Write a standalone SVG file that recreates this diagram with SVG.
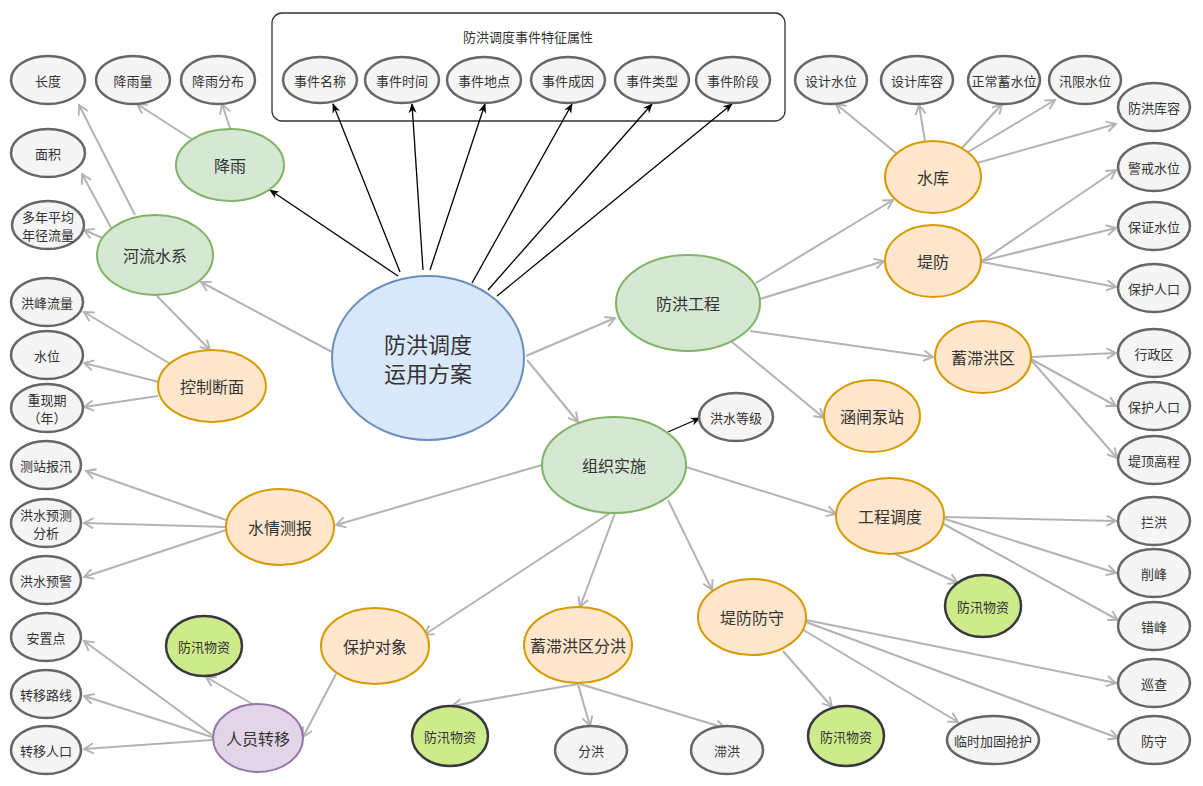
<svg xmlns="http://www.w3.org/2000/svg" width="1203" height="786" viewBox="0 0 1203 786">
<defs>
<marker id="ag" viewBox="0 0 14 14" refX="12" refY="7" markerWidth="12" markerHeight="12" markerUnits="userSpaceOnUse" orient="auto" overflow="visible"><path d="M1,1 L12,7 L1,13" fill="none" stroke="#b3b3b3" stroke-width="2.2"/></marker>
<marker id="ab" viewBox="0 0 10 10" refX="9" refY="5" markerWidth="10" markerHeight="10" markerUnits="userSpaceOnUse" orient="auto"><path d="M0,1 L10,5 L0,9 L3,5 Z" fill="#000"/></marker>
</defs>
<style>
text{font-family:"Noto Sans CJK SC","Liberation Sans",sans-serif;fill:#333;text-anchor:middle;dominant-baseline:central}
.leaf ellipse{fill:#f5f5f5;stroke:#666;stroke-width:2.5}
.leaf text{font-size:13px}
.org ellipse{fill:#ffe6cc;stroke:#d79b00;stroke-width:2}
.grn ellipse{fill:#d5e8d4;stroke:#82b366;stroke-width:2}
.mat ellipse{fill:#cdeb8b;stroke:#36393d;stroke-width:2.5}
.mat text{font-size:13px}
.pur ellipse{fill:#e1d5e7;stroke:#9673a6;stroke-width:2}
.mid text{font-size:16px}
.g line{stroke:#b3b3b3;stroke-width:2;marker-end:url(#ag)}
.b line{stroke:#000;stroke-width:1.3;marker-end:url(#ab)}
</style>
<rect x="272" y="13" width="513" height="108" rx="10" fill="#fff" stroke="#333" stroke-width="1.3"/>
<text x="528" y="36" style="font-size:13px">防洪调度事件特征属性</text>
<g id="connectors">
<g class="b">
<line x1="398" y1="276" x2="270" y2="190"/>
<line x1="400" y1="272" x2="333" y2="104"/>
<line x1="423" y1="270" x2="412" y2="104"/>
<line x1="430" y1="270" x2="485" y2="104"/>
<line x1="472" y1="283" x2="572" y2="104"/>
<line x1="488" y1="290" x2="652" y2="104"/>
<line x1="497" y1="296" x2="732" y2="104"/>
<line x1="668" y1="432" x2="700" y2="418"/>
</g>
<g class="g">
<line x1="332" y1="352" x2="201" y2="282"/>
<line x1="526" y1="356" x2="615" y2="318"/>
<line x1="527" y1="360" x2="578" y2="422"/>
<line x1="135" y1="215" x2="79" y2="105"/>
<line x1="115" y1="235" x2="82" y2="174"/>
<line x1="107" y1="240" x2="84" y2="230"/>
<line x1="157" y1="296" x2="210" y2="350"/>
<line x1="193" y1="140" x2="137" y2="104"/>
<line x1="230" y1="128" x2="222" y2="104"/>
<line x1="172" y1="365" x2="84" y2="312"/>
<line x1="159" y1="382" x2="84" y2="363"/>
<line x1="158" y1="396" x2="84" y2="407"/>
<line x1="756" y1="283" x2="893" y2="200"/>
<line x1="760" y1="299" x2="884" y2="261"/>
<line x1="750" y1="331" x2="933" y2="357"/>
<line x1="732" y1="342" x2="824" y2="418"/>
<line x1="896" y1="153" x2="836" y2="104"/>
<line x1="925" y1="141" x2="919" y2="105"/>
<line x1="962" y1="148" x2="1002" y2="104"/>
<line x1="968" y1="152" x2="1055" y2="100"/>
<line x1="977" y1="163" x2="1116" y2="124"/>
<line x1="982" y1="261" x2="1116" y2="170"/>
<line x1="982" y1="261" x2="1116" y2="228"/>
<line x1="982" y1="262" x2="1116" y2="287"/>
<line x1="1031" y1="357" x2="1116" y2="353"/>
<line x1="1031" y1="359" x2="1116" y2="406"/>
<line x1="1031" y1="360" x2="1117" y2="458"/>
<line x1="542" y1="465" x2="336" y2="525"/>
<line x1="610" y1="513" x2="424" y2="635"/>
<line x1="615" y1="513" x2="580" y2="607"/>
<line x1="668" y1="500" x2="712" y2="590"/>
<line x1="686" y1="467" x2="836" y2="514"/>
<line x1="945" y1="517" x2="1116" y2="521"/>
<line x1="945" y1="519" x2="1116" y2="573"/>
<line x1="940" y1="522" x2="1118" y2="620"/>
<line x1="893" y1="553" x2="958" y2="583"/>
<line x1="806" y1="620" x2="1116" y2="683"/>
<line x1="806" y1="622" x2="1118" y2="738"/>
<line x1="800" y1="628" x2="958" y2="722"/>
<line x1="783" y1="651" x2="832" y2="707"/>
<line x1="578" y1="684" x2="452" y2="706"/>
<line x1="578" y1="684" x2="590" y2="726"/>
<line x1="580" y1="684" x2="725" y2="728"/>
<line x1="336" y1="674" x2="303" y2="737"/>
<line x1="254" y1="705" x2="206" y2="677"/>
<line x1="212" y1="735" x2="84" y2="641"/>
<line x1="212" y1="737" x2="84" y2="696"/>
<line x1="212" y1="740" x2="84" y2="749"/>
<line x1="226" y1="520" x2="86" y2="471"/>
<line x1="226" y1="527" x2="84" y2="523"/>
<line x1="226" y1="530" x2="84" y2="577"/>
</g>
</g>
<g id="center"><ellipse cx="428" cy="358" rx="96" ry="82" fill="#dae8fc" stroke="#6c8ebf" stroke-width="2"/><text x="428" y="343" style="font-size:22px">防洪调度</text><text x="428" y="372" style="font-size:22px">运用方案</text></g>
<g id="n_len" class="leaf"><ellipse cx="48" cy="80" rx="37" ry="24"/><text x="48" y="80">长度</text></g>
<g id="n_rainamt" class="leaf"><ellipse cx="133" cy="80" rx="37" ry="24"/><text x="133" y="80">降雨量</text></g>
<g id="n_raindist" class="leaf"><ellipse cx="218" cy="80" rx="37" ry="24"/><text x="218" y="80">降雨分布</text></g>
<g id="n_area" class="leaf"><ellipse cx="48" cy="153" rx="37" ry="24"/><text x="48" y="153">面积</text></g>
<g id="n_runoff" class="leaf"><ellipse cx="48" cy="225" rx="36" ry="24"/><text x="48" y="216">多年平均</text><text x="48" y="234">年径流量</text></g>
<g id="n_peak" class="leaf"><ellipse cx="47" cy="302" rx="36" ry="24"/><text x="47" y="302">洪峰流量</text></g>
<g id="n_level" class="leaf"><ellipse cx="47" cy="355" rx="36" ry="24"/><text x="47" y="355">水位</text></g>
<g id="n_return" class="leaf"><ellipse cx="47" cy="408" rx="36" ry="24"/><text x="47" y="399">重现期</text><text x="47" y="417">（年）</text></g>
<g id="n_station" class="leaf"><ellipse cx="46" cy="465" rx="35" ry="24"/><text x="46" y="465">测站报汛</text></g>
<g id="n_forecast" class="leaf"><ellipse cx="46" cy="523" rx="35" ry="24"/><text x="46" y="514">洪水预测</text><text x="46" y="532">分析</text></g>
<g id="n_warn" class="leaf"><ellipse cx="46" cy="580" rx="35" ry="24"/><text x="46" y="580">洪水预警</text></g>
<g id="n_settle" class="leaf"><ellipse cx="46" cy="637" rx="35" ry="24"/><text x="46" y="637">安置点</text></g>
<g id="n_route" class="leaf"><ellipse cx="46" cy="694" rx="35" ry="24"/><text x="46" y="694">转移路线</text></g>
<g id="n_pop" class="leaf"><ellipse cx="46" cy="750" rx="35" ry="24"/><text x="46" y="750">转移人口</text></g>
<g id="e1" class="leaf"><ellipse cx="320" cy="80" rx="37" ry="23"/><text x="320" y="80">事件名称</text></g>
<g id="e2" class="leaf"><ellipse cx="402" cy="80" rx="37" ry="23"/><text x="402" y="80">事件时间</text></g>
<g id="e3" class="leaf"><ellipse cx="484" cy="80" rx="37" ry="23"/><text x="484" y="80">事件地点</text></g>
<g id="e4" class="leaf"><ellipse cx="568" cy="80" rx="37" ry="23"/><text x="568" y="80">事件成因</text></g>
<g id="e5" class="leaf"><ellipse cx="652" cy="80" rx="37" ry="23"/><text x="652" y="80">事件类型</text></g>
<g id="e6" class="leaf"><ellipse cx="733" cy="80" rx="37" ry="23"/><text x="733" y="80">事件阶段</text></g>
<g id="r1" class="leaf"><ellipse cx="831" cy="80" rx="36" ry="24"/><text x="831" y="80">设计水位</text></g>
<g id="r2" class="leaf"><ellipse cx="917" cy="80" rx="36" ry="24"/><text x="917" y="80">设计库容</text></g>
<g id="r3" class="leaf"><ellipse cx="1004" cy="80" rx="36" ry="24"/><text x="1004" y="80">正常蓄水位</text></g>
<g id="r4" class="leaf"><ellipse cx="1085" cy="80" rx="36" ry="24"/><text x="1085" y="80">汛限水位</text></g>
<g id="r5" class="leaf"><ellipse cx="1154" cy="107" rx="36" ry="24"/><text x="1154" y="107">防洪库容</text></g>
<g id="d1" class="leaf"><ellipse cx="1154" cy="167" rx="36" ry="24"/><text x="1154" y="167">警戒水位</text></g>
<g id="d2" class="leaf"><ellipse cx="1154" cy="226" rx="36" ry="24"/><text x="1154" y="226">保证水位</text></g>
<g id="d3" class="leaf"><ellipse cx="1154" cy="288" rx="36" ry="24"/><text x="1154" y="288">保护人口</text></g>
<g id="x1" class="leaf"><ellipse cx="1154" cy="353" rx="36" ry="24"/><text x="1154" y="353">行政区</text></g>
<g id="x2" class="leaf"><ellipse cx="1154" cy="406" rx="36" ry="24"/><text x="1154" y="406">保护人口</text></g>
<g id="x3" class="leaf"><ellipse cx="1154" cy="460" rx="36" ry="24"/><text x="1154" y="460">堤顶高程</text></g>
<g id="g1" class="leaf"><ellipse cx="1154" cy="521" rx="36" ry="24"/><text x="1154" y="521">拦洪</text></g>
<g id="g2" class="leaf"><ellipse cx="1154" cy="573" rx="36" ry="24"/><text x="1154" y="573">削峰</text></g>
<g id="g3" class="leaf"><ellipse cx="1154" cy="626" rx="36" ry="24"/><text x="1154" y="626">错峰</text></g>
<g id="k1" class="leaf"><ellipse cx="1154" cy="683" rx="36" ry="24"/><text x="1154" y="683">巡查</text></g>
<g id="k2" class="leaf"><ellipse cx="1154" cy="740" rx="36" ry="24"/><text x="1154" y="740">防守</text></g>
<g id="k3" class="leaf"><ellipse cx="993" cy="740" rx="46" ry="24"/><text x="993" y="740">临时加固抢护</text></g>
<g id="level" class="leaf"><ellipse cx="736" cy="417" rx="37" ry="24"/><text x="736" y="417">洪水等级</text></g>
<g id="f1" class="leaf"><ellipse cx="591" cy="750" rx="36" ry="24"/><text x="591" y="750">分洪</text></g>
<g id="f2" class="leaf"><ellipse cx="727" cy="750" rx="36" ry="24"/><text x="727" y="750">滞洪</text></g>
<g id="m1" class="mat"><ellipse cx="983" cy="606" rx="38" ry="31"/><text x="983" y="606">防汛物资</text></g>
<g id="m2" class="mat"><ellipse cx="846" cy="736" rx="38" ry="30"/><text x="846" y="736">防汛物资</text></g>
<g id="m3" class="mat"><ellipse cx="450" cy="736" rx="38" ry="30"/><text x="450" y="736">防汛物资</text></g>
<g id="m4" class="mat"><ellipse cx="204" cy="646" rx="38" ry="30"/><text x="204" y="646">防汛物资</text></g>
<g id="rain" class="grn mid"><ellipse cx="230" cy="165" rx="54" ry="36"/><text x="230" y="165">降雨</text></g>
<g id="river" class="grn mid"><ellipse cx="155" cy="255" rx="58" ry="40"/><text x="155" y="255">河流水系</text></g>
<g id="proj" class="grn mid"><ellipse cx="688" cy="303" rx="72" ry="48"/><text x="688" y="303">防洪工程</text></g>
<g id="org" class="grn mid"><ellipse cx="614" cy="465" rx="72" ry="48"/><text x="614" y="465">组织实施</text></g>
<g id="sec" class="org mid"><ellipse cx="212" cy="386" rx="54" ry="36"/><text x="212" y="386">控制断面</text></g>
<g id="res" class="org mid"><ellipse cx="933" cy="177" rx="48" ry="36"/><text x="933" y="177">水库</text></g>
<g id="dike" class="org mid"><ellipse cx="933" cy="261" rx="48" ry="36"/><text x="933" y="261">堤防</text></g>
<g id="det" class="org mid"><ellipse cx="983" cy="357" rx="48" ry="36"/><text x="983" y="357">蓄滞洪区</text></g>
<g id="pump" class="org mid"><ellipse cx="872" cy="416" rx="48" ry="36"/><text x="872" y="416">涵闸泵站</text></g>
<g id="disp" class="org mid"><ellipse cx="890" cy="516" rx="54" ry="38"/><text x="890" y="516">工程调度</text></g>
<g id="guard" class="org mid"><ellipse cx="752" cy="617" rx="54" ry="38"/><text x="752" y="617">堤防防守</text></g>
<g id="divert" class="org mid"><ellipse cx="578" cy="645" rx="54" ry="38"/><text x="578" y="645">蓄滞洪区分洪</text></g>
<g id="prot" class="org mid"><ellipse cx="375" cy="646" rx="54" ry="38"/><text x="375" y="646">保护对象</text></g>
<g id="hydro" class="org mid"><ellipse cx="280" cy="527" rx="54" ry="38"/><text x="280" y="527">水情测报</text></g>
<g id="evac" class="pur mid"><ellipse cx="258" cy="738" rx="45" ry="34"/><text x="258" y="738">人员转移</text></g>
</svg>
